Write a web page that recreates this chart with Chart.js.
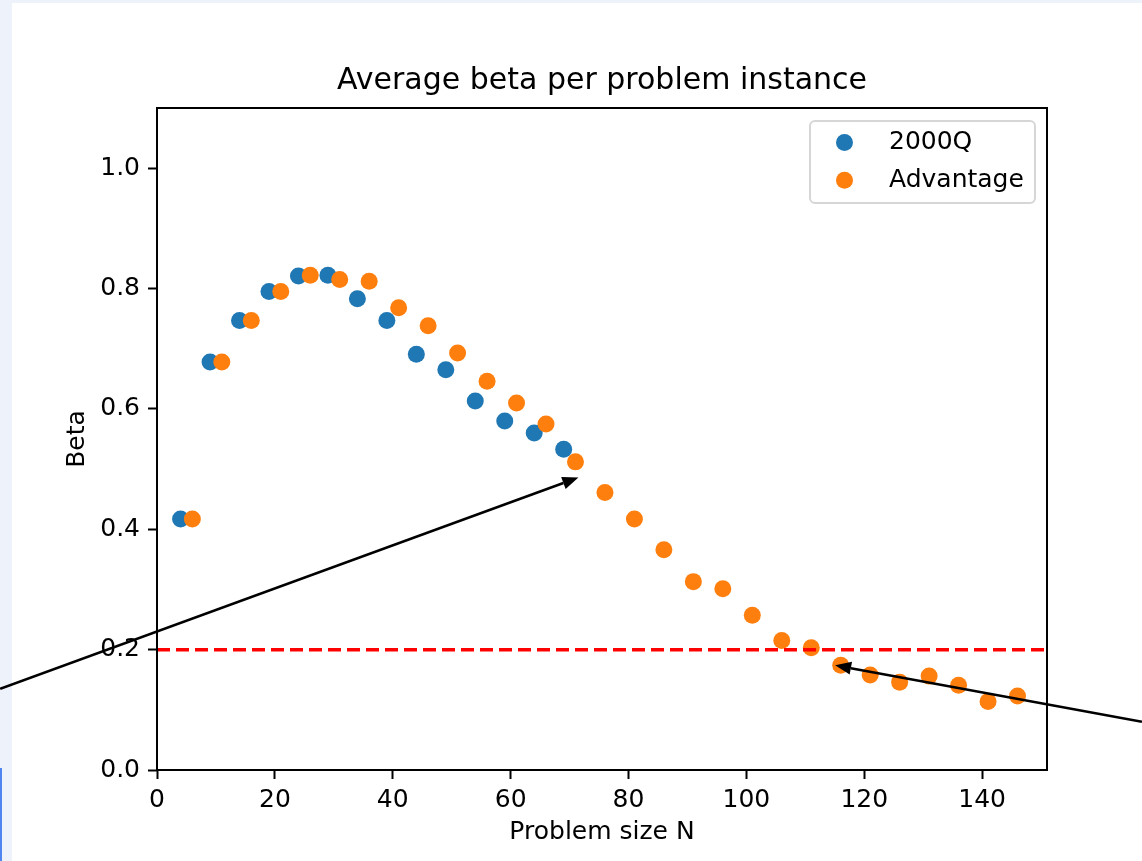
<!DOCTYPE html>
<html>
<head>
<meta charset="utf-8">
<title>Average beta per problem instance</title>
<script src="https://cdn.jsdelivr.net/npm/chart.js@4.4.1/dist/chart.umd.min.js"></script>
<style>
  html, body { margin: 0; padding: 0; background: #fff; }
  canvas { display: block; }
</style>
</head>
<body>
<canvas id="betaChart" width="1142" height="861"></canvas>
<script>
"use strict";
// Values
const sizes2000Q = [4, 9, 14, 19, 24, 29, 34, 39, 44, 49, 54, 59, 64, 69];
const beta2000Q = [0.417, 0.678, 0.747, 0.795, 0.821, 0.822, 0.783, 0.747, 0.691, 0.665, 0.613, 0.580, 0.560, 0.533];

const sizesAdvantage = [6, 11, 16, 21, 26, 31, 36, 41, 46, 51, 56, 61, 66, 71, 76, 81, 86, 91, 96, 101, 106, 111, 116, 121, 126, 131, 136, 141, 146];
const betaAdvantage = [0.417, 0.678, 0.747, 0.795, 0.822, 0.815, 0.812, 0.768, 0.738, 0.693, 0.646, 0.610, 0.575, 0.512,
                       0.461, 0.417, 0.366, 0.313, 0.301, 0.257, 0.215, 0.203, 0.174, 0.158, 0.146, 0.156, 0.141, 0.114, 0.123];

const thresholdBeta = 0.2;
const xRange = [0, 151];
const yRange = [0, 1.1];
const xTicks = [0, 20, 40, 60, 80, 100, 120, 140];
const yTicks = [0.0, 0.2, 0.4, 0.6, 0.8, 1.0];

// Arrows pasted over the figure, in data coordinates (tail -> head)
const arrowTails = [[-26.6, 0.135], [167.1, 0.080]];
const arrowHeads = [[71.5, 0.486], [115.05, 0.174]];

const FONT = "'DejaVu Sans', 'Liberation Sans', sans-serif";
Chart.defaults.font.family = FONT;
Chart.defaults.color = '#000';

const toPoints = (xs, ys) => xs.map((x, i) => ({ x: x, y: ys[i] }));

// light blue frame of the screenshot behind the figure
const pageBackground = {
    id: 'pageBackground',
    beforeDraw(chart) {
        const ctx = chart.ctx;
        ctx.save();
        ctx.fillStyle = '#eef2fb';
        ctx.fillRect(0, 0, chart.width, chart.height);
        ctx.fillStyle = '#ffffff';
        ctx.fillRect(12, 3, chart.width - 12, chart.height - 3);
        ctx.fillStyle = '#4f86f0';
        ctx.fillRect(0, 768, 2, chart.height - 768);
        ctx.restore();
    }
};

// all four spines, like matplotlib
const axesFrame = {
    id: 'axesFrame',
    afterDatasetsDraw(chart) {
        const a = chart.chartArea;
        const ctx = chart.ctx;
        ctx.save();
        ctx.strokeStyle = '#000';
        ctx.lineWidth = 2;
        ctx.strokeRect(a.left, a.top, a.right - a.left, a.bottom - a.top);
        ctx.restore();
    }
};

// legend box in the upper right of the axes
const boxLegend = {
    id: 'boxLegend',
    afterDraw(chart) {
        const a = chart.chartArea;
        const ctx = chart.ctx;
        const w = 225, h = 82;
        const left = a.right - 12 - w, top = a.top + 13;
        ctx.save();
        ctx.beginPath();
        ctx.roundRect(left, top, w, h, 5);
        ctx.fillStyle = 'rgba(255,255,255,0.8)';
        ctx.fill();
        ctx.strokeStyle = '#d6d6d6';
        ctx.lineWidth = 2;
        ctx.stroke();
        const rows = chart.data.datasets.filter(d => d.inLegend);
        ctx.font = '25px ' + FONT;
        ctx.textBaseline = 'middle';
        ctx.textAlign = 'left';
        rows.forEach((d, i) => {
            const y = top + 21.5 + i * 37.7;
            ctx.beginPath();
            ctx.arc(left + 34.5, y, 8.5, 0, Math.PI * 2);
            ctx.fillStyle = d.backgroundColor;
            ctx.fill();
            ctx.fillStyle = '#000';
            ctx.fillText(d.label, left + 79, y);
        });
        ctx.restore();
    }
};

// black arrows, positioned through the scales
const arrows = {
    id: 'arrows',
    afterDraw(chart) {
        const xs = chart.scales.x, ys = chart.scales.y;
        const ctx = chart.ctx;
        ctx.save();
        ctx.strokeStyle = '#000';
        ctx.fillStyle = '#000';
        ctx.lineWidth = 2.5;
        arrowTails.forEach((t, i) => {
            const x0 = xs.getPixelForValue(t[0]), y0 = ys.getPixelForValue(t[1]);
            const x1 = xs.getPixelForValue(arrowHeads[i][0]), y1 = ys.getPixelForValue(arrowHeads[i][1]);
            const ang = Math.atan2(y1 - y0, x1 - x0);
            const len = 16, half = 6.5;
            const bx = x1 - len * Math.cos(ang), by = y1 - len * Math.sin(ang);
            ctx.beginPath();
            ctx.moveTo(x0, y0);
            ctx.lineTo(bx, by);
            ctx.stroke();
            ctx.beginPath();
            ctx.moveTo(x1, y1);
            ctx.lineTo(bx + half * Math.sin(ang), by - half * Math.cos(ang));
            ctx.lineTo(bx - half * Math.sin(ang), by + half * Math.cos(ang));
            ctx.closePath();
            ctx.fill();
        });
        ctx.restore();
    }
};

const ctx = document.getElementById('betaChart').getContext('2d');
new Chart(ctx, {
    type: 'scatter',
    data: {
        datasets: [{
            label: '2000Q',
            inLegend: true,
            data: toPoints(sizes2000Q, beta2000Q),
            backgroundColor: '#1f77b4',
            pointRadius: 8.5,
            pointHoverRadius: 8.5,
            pointBorderWidth: 0,
            order: 3
        }, {
            label: 'Advantage',
            inLegend: true,
            data: toPoints(sizesAdvantage, betaAdvantage),
            backgroundColor: '#ff7f0e',
            pointRadius: 8.5,
            pointHoverRadius: 8.5,
            pointBorderWidth: 0,
            order: 2
        }, {
            label: 'threshold',
            type: 'line',
            data: xRange.map(x => ({ x: x, y: thresholdBeta })),
            borderColor: '#ff0000',
            borderWidth: 3.5,
            borderDash: [13, 6],
            pointRadius: 0,
            fill: false,
            order: 1
        }]
    },
    options: {
        responsive: false,
        animation: false,
        devicePixelRatio: 1,
        layout: { padding: { left: 0, right: 95, top: 0, bottom: 0 } },
        plugins: {
            legend: { display: false },
            tooltip: { enabled: false },
            title: {
                display: true,
                text: 'Average beta per problem instance',
                fullSize: false,
                color: '#000',
                font: { size: 30, weight: 'normal' },
                padding: { top: 63, bottom: 9 }
            }
        },
        scales: {
            x: {
                type: 'linear',
                position: 'bottom',
                min: xRange[0],
                max: xRange[1],
                afterBuildTicks: s => { s.ticks = xTicks.map(v => ({ value: v })); },
                afterFit: s => { s.height = 91; },
                grid: { drawOnChartArea: false, drawTicks: true, tickLength: 9, tickWidth: 2, tickColor: '#000' },
                border: { display: false },
                ticks: { font: { size: 25 }, color: '#000', padding: 6, maxRotation: 0, autoSkip: false,
                         callback: v => String(v) },
                title: { display: true, text: 'Problem size N', color: '#000', font: { size: 25 },
                         padding: { top: 0, bottom: 14 } }
            },
            y: {
                type: 'linear',
                min: yRange[0],
                max: yRange[1],
                afterBuildTicks: s => { s.ticks = yTicks.map(v => ({ value: v })); },
                afterFit: s => { s.width = 157; },
                grid: { drawOnChartArea: false, drawTicks: true, tickLength: 9, tickWidth: 2, tickColor: '#000' },
                border: { display: false },
                ticks: { font: { size: 25 }, color: '#000', padding: 8, autoSkip: false,
                         callback: v => v.toFixed(1) },
                title: { display: true, text: 'Beta', color: '#000', font: { size: 25 },
                         padding: { top: 62, bottom: 0 } }
            }
        }
    },
    plugins: [pageBackground, axesFrame, boxLegend, arrows]
});
</script>
</body>
</html>
